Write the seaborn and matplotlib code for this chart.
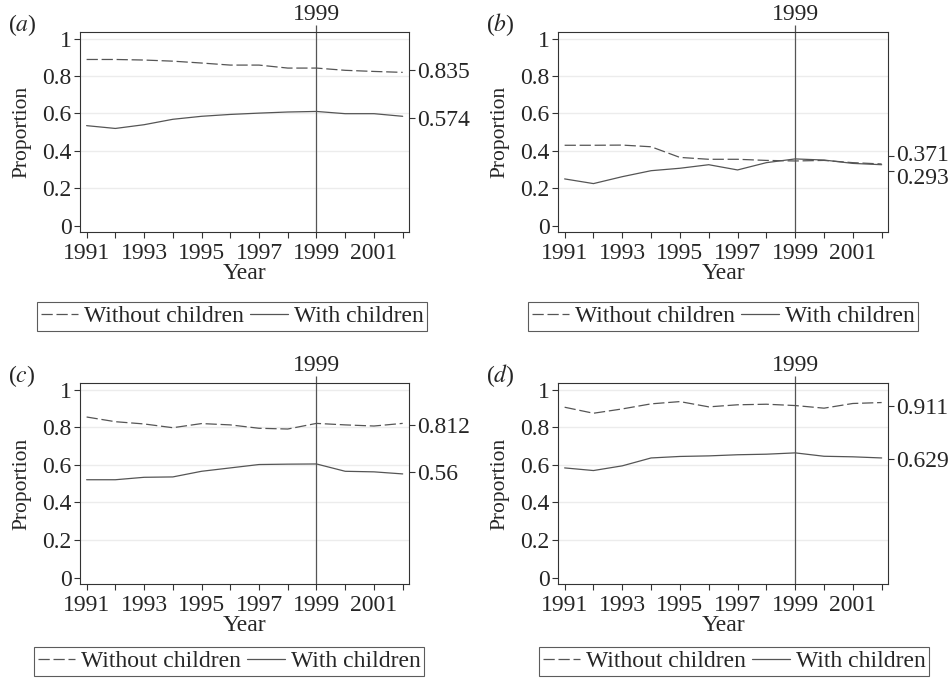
import numpy as np
import pandas as pd
import matplotlib
matplotlib.use("Agg")
import matplotlib.pyplot as plt
import matplotlib.transforms as mtransforms
import seaborn as sns

years = list(range(1991, 2003))

# panel (a)
a_without = [0.889, 0.889, 0.886, 0.880, 0.870, 0.859, 0.859, 0.843, 0.843, 0.831, 0.825, 0.820]
a_with = [0.535, 0.520, 0.540, 0.569, 0.585, 0.595, 0.602, 0.608, 0.611, 0.599, 0.599, 0.585]
a_right = [0.835, 0.574]

# panel (b)
b_without = [0.430, 0.430, 0.431, 0.422, 0.365, 0.355, 0.355, 0.349, 0.346, 0.349, 0.337, 0.330]
b_with = [0.250, 0.225, 0.262, 0.294, 0.307, 0.326, 0.298, 0.337, 0.357, 0.351, 0.333, 0.326]
b_right = [0.371, 0.293]

# panel (c)
c_without = [0.855, 0.830, 0.818, 0.798, 0.820, 0.813, 0.795, 0.791, 0.821, 0.813, 0.807, 0.821]
c_with = [0.521, 0.521, 0.534, 0.536, 0.566, 0.584, 0.602, 0.604, 0.605, 0.566, 0.563, 0.552]
c_right = [0.812, 0.56]

# panel (d)
d_without = [0.907, 0.875, 0.898, 0.925, 0.937, 0.909, 0.920, 0.923, 0.916, 0.902, 0.927, 0.932]
d_with = [0.584, 0.570, 0.595, 0.637, 0.645, 0.648, 0.654, 0.657, 0.664, 0.646, 0.643, 0.637]
d_right = [0.911, 0.629]

panel_letters = ["a", "b", "c", "d"]
groups = ["Without children", "With children"]

sns.set_theme(style="white")
plt.rcParams["font.family"] = ["Liberation Serif", "DejaVu Serif"]
plt.rcParams["mathtext.fontset"] = "stix"

W, H = 953, 679
fig = plt.figure(figsize=(W / 100, H / 100), dpi=100)
fs = 17
line_col = "#555555"

# axes boxes in pixels: left, top, right, bottom
boxes = [(80, 32, 409, 232), (558, 32, 888, 232),
         (80, 383, 409, 584), (558, 383, 888, 584)]
legend_centers = [(232, 302), (723, 302), (229, 647), (734, 647)]

panels = [(a_without, a_with, a_right), (b_without, b_with, b_right),
          (c_without, c_with, c_right), (d_without, d_with, d_right)]

for i, (wo, wi, right) in enumerate(panels):
    l, t, r, b = boxes[i]
    ax = fig.add_axes([l / W, 1 - b / H, (r - l) / W, (b - t) / H])
    df = pd.DataFrame({
        "Year": years * 2,
        "Proportion": wo + wi,
        "group": [groups[0]] * len(years) + [groups[1]] * len(years),
    })
    sns.lineplot(data=df, x="Year", y="Proportion", style="group",
                 dashes={groups[0]: (9, 3), groups[1]: ""},
                 color=line_col, linewidth=0.9, ax=ax, legend=True)

    ax.set_xlim(1990.77, 2002.22)
    ax.set_ylim(-0.034, 1.036)
    ax.set_yticks([0, 0.2, 0.4, 0.6, 0.8, 1])
    ax.set_yticklabels(["0", "0.2", "0.4", "0.6", "0.8", "1"])
    ax.set_xticks([1991, 1993, 1995, 1997, 1999, 2001])
    ax.set_xticks([1992, 1994, 1996, 1998, 2000, 2002], minor=True)
    ax.tick_params(axis="both", which="both", direction="out", length=4,
                   width=0.8, color="#333333", labelsize=fs, pad=2,
                   bottom=True, left=True)
    ax.tick_params(axis="x", which="both", length=4, pad=4)
    for y in [0.2, 0.4, 0.6, 0.8, 1.0]:
        ax.axhline(y, color="#ececec", linewidth=1.0, zorder=0)
    ax.axvline(1999, color="#555555", linewidth=0.9, zorder=1)
    for s in ax.spines.values():
        s.set_color("#333333")
        s.set_linewidth(0.8)
    ax.set_xlabel("Year", fontsize=fs, labelpad=-1)
    ax.set_ylabel("Proportion", fontsize=15.5, labelpad=8)

    # right axis with summary values
    axr = ax.twinx()
    axr.set_ylim(ax.get_ylim())
    axr.set_yticks(right)
    axr.set_yticklabels([f"{v:g}" for v in right])
    axr.tick_params(axis="y", direction="out", length=4, width=0.8,
                    color="#333333", labelsize=fs, pad=2, right=True)
    axr.grid(False)
    for s in axr.spines.values():
        s.set_visible(False)
    if abs(right[0] - right[1]) < 0.15:
        # pull close labels apart a little
        lbls = axr.get_yticklabels()
        lbls[0].set_transform(lbls[0].get_transform() +
                              mtransforms.ScaledTranslation(0, 3 / 100, fig.dpi_scale_trans))
        lbls[1].set_transform(lbls[1].get_transform() +
                              mtransforms.ScaledTranslation(0, -5 / 100, fig.dpi_scale_trans))

    # top axis marking 1999
    axt = ax.secondary_xaxis("top")
    axt.set_xticks([1999])
    axt.set_xticklabels(["1999"])
    axt.tick_params(direction="out", length=5, width=0.9, color="#555555",
                    labelsize=fs, pad=0)
    axt.spines["top"].set_visible(False)

    # panel letter
    fig.text((l - 72) / W, 1 - (t + 6) / H, r"(${\it " + panel_letters[i] + r"}$)",
             fontsize=fs, ha="left", va="bottom")

    handles, labels = ax.get_legend_handles_labels()
    ax.legend_.remove()
    cx, cy = legend_centers[i]
    leg = fig.legend(handles, labels, loc="upper center",
                     bbox_to_anchor=(cx / W, 1 - cy / H), ncol=2,
                     frameon=True, fancybox=False, fontsize=fs,
                     handlelength=1.6, handletextpad=0.25, columnspacing=0.25,
                     borderpad=0.15, borderaxespad=0)
    leg.get_frame().set_edgecolor("#333333")
    leg.get_frame().set_linewidth(0.8)

fig.savefig("out.png", dpi=100, facecolor="white")
